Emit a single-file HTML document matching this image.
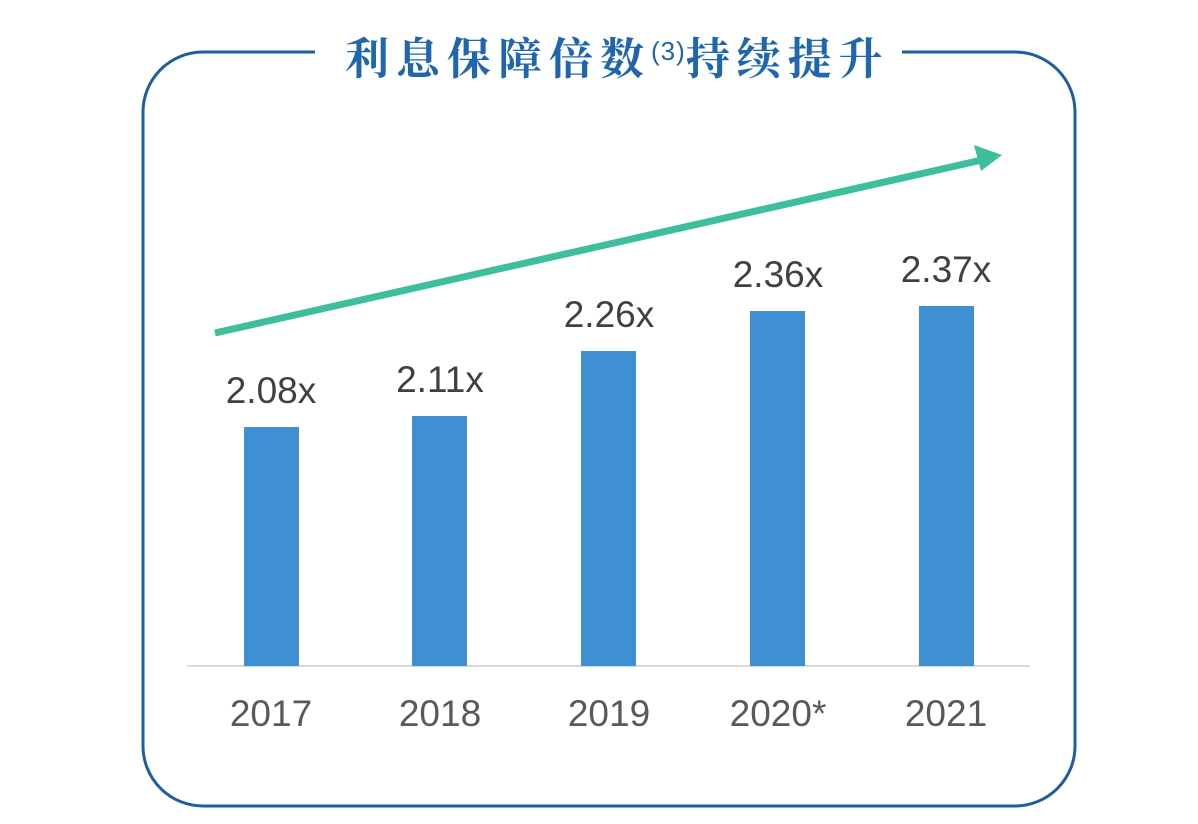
<!DOCTYPE html>
<html><head><meta charset="utf-8"><style>
html,body{margin:0;padding:0;background:#fff;}
svg{display:block}
</style></head><body>
<svg width="1198" height="824" viewBox="0 0 1198 824" xmlns="http://www.w3.org/2000/svg">
<path d="M315 52 H203 A60 60 0 0 0 143 112 V746 A60 60 0 0 0 203 806 H1015 A60 60 0 0 0 1075 746 V112 A60 60 0 0 0 1015 52 H902" fill="none" stroke="#1f5e9e" stroke-width="3"/>
<text x="345" y="74" font-family="'Noto Serif CJK SC','Noto Sans CJK SC',serif" font-weight="bold" font-size="44" fill="#1f66ad" letter-spacing="7">利息保障倍数<tspan font-family="'Liberation Sans',sans-serif" font-weight="normal" font-size="26" dy="-14" letter-spacing="1">(3)</tspan><tspan dy="14">持续提升</tspan></text>
<line x1="215" y1="333" x2="982" y2="160" stroke="#3dbf9c" stroke-width="7"/>
<polygon points="1002,155 974,145 981,171" fill="#3dbf9c"/>
<line x1="187" y1="666" x2="1030" y2="666" stroke="#d9d9d9" stroke-width="2"/>
<g fill="#3f8fd3">
<rect x="244" y="427" width="55" height="239"/>
<rect x="412" y="416" width="55" height="250"/>
<rect x="581" y="351" width="55" height="315"/>
<rect x="750" y="311" width="55" height="355"/>
<rect x="919" y="306" width="55" height="360"/>
</g>
<g font-family="'Liberation Sans',sans-serif" font-size="37" fill="#404040" text-anchor="middle">
<text x="271" y="403">2.08x</text>
<text x="440" y="392">2.11x</text>
<text x="609" y="327">2.26x</text>
<text x="778" y="287">2.36x</text>
<text x="946" y="282">2.37x</text>
</g>
<g font-family="'Liberation Sans',sans-serif" font-size="37" fill="#595959" text-anchor="middle">
<text x="271" y="726">2017</text>
<text x="440" y="726">2018</text>
<text x="609" y="726">2019</text>
<text x="778" y="726">2020*</text>
<text x="946" y="726">2021</text>
</g>
</svg>
</body></html>
